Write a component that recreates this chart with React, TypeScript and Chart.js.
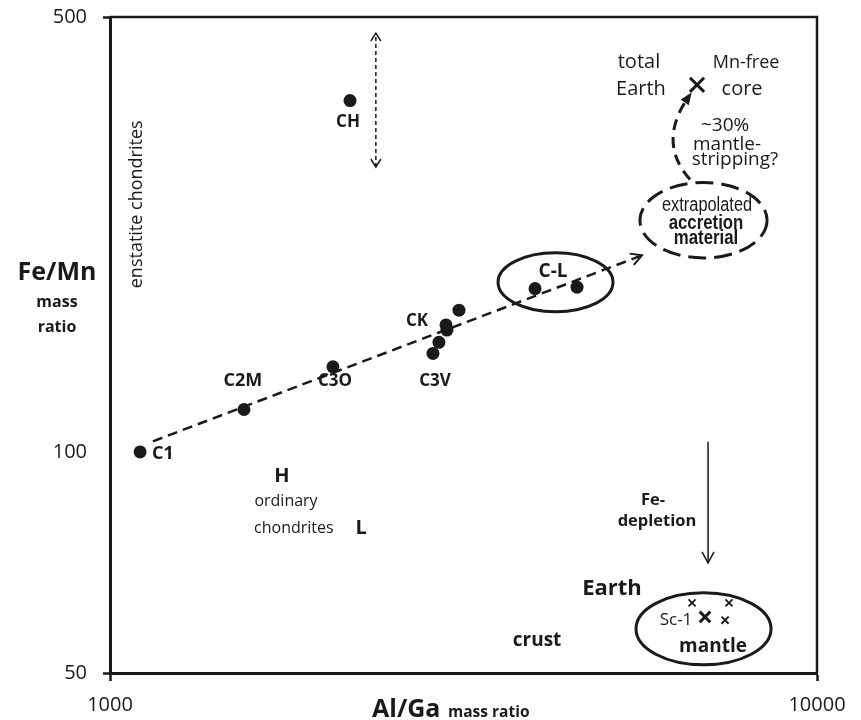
import React, { useEffect, useRef } from 'react';
import { Chart, registerables, LogarithmicScale } from 'chart.js';

Chart.register(...registerables);

// ---------- axes ----------
const xTickValues = [1000, 10000];
const xTickLabels = ['1000', '10000'];
const yTickValues = [50, 100, 500];
const yTickLabels = ['50', '100', '500'];
const Y_MIN = 50;
const Y_MAX = 500;
const Y_BREAK = 100;          // the figure's y axis is drawn with 50-100 stretched
const Y_BREAK_FRACTION = 0.337;

// ---------- chondrite groups (Al/Ga, Fe/Mn mass ratios) ----------
const chondriteNames = ['C1', 'C2M', 'C3O', 'C3V', 'C3V', 'CK', 'CK', 'CK', 'C-L', 'C-L', 'CH'];
const chondriteAlGa = [1103, 1547, 2067, 2863, 2919, 2996, 2987, 3116, 3992, 4577, 2185];
const chondriteFeMn = [100, 117, 137, 144, 150, 157, 160, 169, 183, 184, 367];

// ---------- Earth ----------
const totalEarthAlGa = [6766];
const totalEarthFeMn = [389];
const sc1AlGa = [6944];
const sc1FeMn = [59.6];
const mantleAlGa = [6657, 7508, 7413];
const mantleFeMn = [62.3, 62.3, 59.0];

// ---------- lines / arrows ----------
const trendAlGa = [1150, 5656];
const trendFeMn = [104, 207];
const chRangeAlGa = [2377, 2377];
const chRangeFeMn = [287, 471];
const feDepletionAlGa = [7013, 7013];
const feDepletionFeMn = [103.8, 70.6];
// mantle-stripping curve: start, control, end
const strippingAlGa = [6614, 5929, 6592];
const strippingFeMn = [274, 315, 373];

// ---------- ellipses (bounds) ----------
const ellipseAlGaMin = [3539, 5618, 5546];
const ellipseAlGaMax = [5146, 8499, 8610];
const ellipseFeMnMin = [168, 205, 51.3];
const ellipseFeMnMax = [209, 271, 64.3];
const ellipseDashed = [false, true, false];

// ---------- text annotations ----------
const annotationText = [
  'CH', 'CK', 'C3V', 'C3O', 'C2M', 'C1', 'C-L', 'H', 'ordinary', 'chondrites', 'L',
  'total', 'Earth', 'Mn-free', 'core', '~30%', 'mantle-', 'stripping?',
  'extrapolated', 'accretion', 'material', 'Fe-', 'depletion', 'Earth', 'Sc-1', 'mantle', 'crust',
  'enstatite chondrites',
];
const annotationAlGa = [
  2171, 2718, 2882, 2081, 1542, 1188, 4233, 1751, 1774, 1820, 2265,
  5600, 5636, 7938, 7835, 7413, 7461, 7656,
  6990, 6966, 6966, 5861, 5939, 5129, 6318, 7126, 4018,
  1092,
];
const annotationFeMn = [
  339, 162, 130, 130, 130, 99.4, 195, 92.5, 85.5, 78.6, 78.6,
  423, 383, 422, 383, 335, 312, 295,
  249, 233, 220, 85.8, 80.5, 65.1, 59.0, 54.4, 55.4,
  250,
];
const annotationStyle = [
  'b17', 'b17', 'b17', 'b17', 'b18', 'b18', 'b19', 'b20', 'r16', 'r16', 'b20',
  'r20', 'r20', 'r18', 'r20', 'r19', 'r19', 'r19',
  'n19', 'nb20', 'nb20', 'b16', 'b16', 'b22', 'r17', 'b19', 'b19',
  'r18v',
];

const INK = '#1a1a1a';
const SANS = '"Open Sans", "Noto Sans", sans-serif';
const ARIAL = '"Liberation Sans", Arial, sans-serif';
const NARROW_SCALE = 0.84;
const STYLE_FONTS: Record<string, string> = {
  b16: `bold 16.5px ${SANS}`,
  b17: `bold 17px ${SANS}`,
  b18: `bold 18px ${SANS}`,
  b19: `bold 19px ${SANS}`,
  b20: `bold 20px ${SANS}`,
  b22: `bold 22px ${SANS}`,
  r16: `16px ${SANS}`,
  r17: `17px ${SANS}`,
  r18: `18px ${SANS}`,
  r18v: `18px ${SANS}`,
  r19: `19px ${SANS}`,
  r20: `20px ${SANS}`,
  n19: `19.5px ${ARIAL}`,
  nb20: `bold 20px ${ARIAL}`,
};

class BrokenLogScale extends LogarithmicScale {
  static id = 'brokenLog';
  static defaults = LogarithmicScale.defaults;
  getPixelForValue(value: any) {
    if (value === undefined || value === null || isNaN(value) || value <= 0) return NaN;
    const min = this.min as number;
    const max = this.max as number;
    let d;
    if (value <= Y_BREAK) d = (Y_BREAK_FRACTION * Math.log(value / min)) / Math.log(Y_BREAK / min);
    else d = Y_BREAK_FRACTION + ((1 - Y_BREAK_FRACTION) * Math.log(value / Y_BREAK)) / Math.log(max / Y_BREAK);
    return this.getPixelForDecimal(d);
  }
  getValueForPixel(pixel: number) {
    const d = this.getDecimalForPixel(pixel);
    const min = this.min as number;
    const max = this.max as number;
    if (d <= Y_BREAK_FRACTION) return min * Math.pow(Y_BREAK / min, d / Y_BREAK_FRACTION);
    return Y_BREAK * Math.pow(max / Y_BREAK, (d - Y_BREAK_FRACTION) / (1 - Y_BREAK_FRACTION));
  }
}
Chart.register(BrokenLogScale as any);

function pts(xs: number[], ys: number[]) {
  return xs.map((x, i) => ({ x, y: ys[i] }));
}

function arrowHead(ctx: CanvasRenderingContext2D, tx: number, ty: number, dx: number, dy: number,
  len: number, half: number, filled: boolean) {
  const n = Math.hypot(dx, dy) || 1;
  const ux = dx / n, uy = dy / n;
  const bx = tx - ux * len, by = ty - uy * len;
  const px = -uy * half, py = ux * half;
  ctx.beginPath();
  if (filled) {
    ctx.moveTo(tx, ty);
    ctx.lineTo(bx + px, by + py);
    ctx.lineTo(bx - px, by - py);
    ctx.closePath();
    ctx.fill();
  } else {
    ctx.moveTo(bx + px, by + py);
    ctx.lineTo(tx, ty);
    ctx.lineTo(bx - px, by - py);
    ctx.stroke();
  }
}

const annotationsPlugin = {
  id: 'figureAnnotations',
  afterDatasetsDraw(chart: any) {
    const { ctx } = chart;
    const xs = chart.scales.x, ys = chart.scales.y;
    const X = (v: number) => xs.getPixelForValue(v);
    const Y = (v: number) => ys.getPixelForValue(v);
    ctx.save();
    ctx.strokeStyle = INK;
    ctx.fillStyle = INK;
    ctx.lineCap = 'butt';

    // ellipses
    ellipseAlGaMin.forEach((_, i) => {
      const x1 = X(ellipseAlGaMin[i]), x2 = X(ellipseAlGaMax[i]);
      const y1 = Y(ellipseFeMnMax[i]), y2 = Y(ellipseFeMnMin[i]);
      ctx.beginPath();
      ctx.setLineDash(ellipseDashed[i] ? [18, 8] : []);
      ctx.lineWidth = 3;
      ctx.ellipse((x1 + x2) / 2, (y1 + y2) / 2, (x2 - x1) / 2, (y2 - y1) / 2, 0, 0, Math.PI * 2);
      ctx.stroke();
    });
    ctx.setLineDash([]);

    // trend arrowhead (open)
    {
      const sx = X(trendAlGa[0]), sy = Y(trendFeMn[0]);
      const ex = X(trendAlGa[1]), ey = Y(trendFeMn[1]);
      ctx.lineWidth = 2;
      arrowHead(ctx, ex, ey, ex - sx, ey - sy, 11, 6, false);
    }
    // CH range double arrow
    {
      const x0 = X(chRangeAlGa[0]);
      const yb = Y(chRangeFeMn[0]), yt = Y(chRangeFeMn[1]);
      ctx.lineWidth = 1.5;
      arrowHead(ctx, x0, yt, 0, -1, 8, 5, false);
      arrowHead(ctx, x0, yb, 0, 1, 8, 5, false);
    }
    // Fe-depletion arrowhead
    {
      const x0 = X(feDepletionAlGa[1]), y0 = Y(feDepletionFeMn[1]);
      ctx.lineWidth = 1.5;
      arrowHead(ctx, x0, y0, 0, 1, 11, 6, false);
    }
    // mantle stripping curved arrow
    {
      const sx = X(strippingAlGa[0]), sy = Y(strippingFeMn[0]);
      const cx = X(strippingAlGa[1]), cy = Y(strippingFeMn[1]);
      const ex = X(strippingAlGa[2]), ey = Y(strippingFeMn[2]);
      ctx.lineWidth = 3;
      ctx.setLineDash([11, 7]);
      ctx.beginPath();
      ctx.moveTo(sx, sy);
      ctx.quadraticCurveTo(cx, cy, ex, ey);
      ctx.stroke();
      ctx.setLineDash([]);
      arrowHead(ctx, ex + (ex - cx) * 0.08, ey + (ey - cy) * 0.08, ex - cx, ey - cy, 12, 5, true);
    }

    // texts
    ctx.textAlign = 'center';
    ctx.textBaseline = 'middle';
    annotationText.forEach((t, i) => {
      const st = annotationStyle[i];
      ctx.font = STYLE_FONTS[st];
      const x = X(annotationAlGa[i]), y = Y(annotationFeMn[i]);
      if (st.endsWith('v')) {
        ctx.save();
        ctx.translate(x, y);
        ctx.rotate(-Math.PI / 2);
        ctx.fillText(t, 0, 0);
        ctx.restore();
      } else if (st.startsWith('n')) {
        ctx.save();
        ctx.translate(x, y);
        ctx.scale(NARROW_SCALE, 1);
        ctx.fillText(t, 0, 0);
        ctx.restore();
      } else {
        ctx.fillText(t, x, y);
      }
    });
    ctx.restore();
  },
  afterDraw(chart: any) {
    const { ctx, chartArea: a } = chart;
    ctx.save();
    ctx.strokeStyle = INK;
    ctx.fillStyle = INK;
    // frame: top and right
    ctx.lineWidth = 2.5;
    ctx.beginPath();
    ctx.moveTo(a.left, a.top);
    ctx.lineTo(a.right, a.top);
    ctx.lineTo(a.right, a.bottom);
    ctx.stroke();
    // y title
    ctx.textAlign = 'center';
    ctx.textBaseline = 'alphabetic';
    ctx.font = `bold 25px ${SANS}`;
    ctx.fillText('Fe/Mn', a.left - 53, a.top + 263);
    ctx.font = `bold 16px ${SANS}`;
    ctx.fillText('mass', a.left - 53, a.top + 290);
    ctx.fillText('ratio', a.left - 53, a.top + 315);
    // x title
    ctx.textAlign = 'left';
    ctx.font = `bold 25px ${SANS}`;
    ctx.fillText('Al/Ga', a.left + 262, a.bottom + 43.5);
    ctx.font = `bold 15.5px ${SANS}`;
    ctx.fillText('mass ratio', a.left + 338, a.bottom + 43.5);
    ctx.restore();
  },
};

export default function App() {
  const canvasRef = useRef<HTMLCanvasElement | null>(null);

  useEffect(() => {
    const canvas = canvasRef.current;
    if (!canvas) return;
    const chart = new Chart(canvas, {
      type: 'scatter',
      data: {
        datasets: [
          {
            label: 'trend',
            data: pts(trendAlGa, trendFeMn),
            showLine: true,
            borderColor: INK,
            borderWidth: 2.5,
            borderDash: [10, 6],
            pointRadius: 0,
          },
          {
            label: 'CH range',
            data: pts(chRangeAlGa, chRangeFeMn),
            showLine: true,
            borderColor: INK,
            borderWidth: 1.5,
            borderDash: [4, 3],
            pointRadius: 0,
          },
          {
            label: 'Fe depletion',
            data: pts(feDepletionAlGa, feDepletionFeMn),
            showLine: true,
            borderColor: INK,
            borderWidth: 1.5,
            pointRadius: 0,
          },
          {
            label: 'chondrites',
            data: pts(chondriteAlGa, chondriteFeMn).map((p, i) => ({ ...p, name: chondriteNames[i] })),
            pointRadius: 6.5,
            pointStyle: 'circle',
            backgroundColor: INK,
            borderColor: INK,
            borderWidth: 0,
          },
          {
            label: 'total Earth',
            data: pts(totalEarthAlGa, totalEarthFeMn),
            pointStyle: 'crossRot',
            pointRadius: 10,
            borderColor: INK,
            borderWidth: 3,
          },
          {
            label: 'Sc-1',
            data: pts(sc1AlGa, sc1FeMn),
            pointStyle: 'crossRot',
            pointRadius: 7.5,
            borderColor: INK,
            borderWidth: 3,
          },
          {
            label: 'mantle',
            data: pts(mantleAlGa, mantleFeMn),
            pointStyle: 'crossRot',
            pointRadius: 5,
            borderColor: INK,
            borderWidth: 1.8,
          },
        ],
      },
      options: {
        animation: false,
        responsive: false,
        devicePixelRatio: 1,
        layout: { padding: { top: 17, right: 44, left: 0, bottom: 0 } },
        plugins: { legend: { display: false }, tooltip: { enabled: false } },
        scales: {
          x: {
            type: 'logarithmic',
            min: 1000,
            max: 10000,
            afterBuildTicks: (s: any) => { s.ticks = xTickValues.map((v) => ({ value: v })); },
            afterFit: (s: any) => { s.height = 47; s.paddingLeft = 0; s.paddingRight = 0; },
            ticks: {
              autoSkip: false,
              maxRotation: 0,
              padding: 12,
              color: INK,
              font: { family: SANS, size: 20 },
              callback: (v: any) => xTickLabels[xTickValues.indexOf(Number(v))] ?? '',
            },
            grid: { drawOnChartArea: false, drawTicks: true, tickLength: 8, tickWidth: 2.5, tickColor: INK },
            border: { display: true, color: INK, width: 3 },
          },
          y: {
            type: 'brokenLog' as any,
            min: Y_MIN,
            max: Y_MAX,
            afterBuildTicks: (s: any) => { s.ticks = yTickValues.map((v) => ({ value: v })); },
            afterFit: (s: any) => { s.width = 110; s.paddingTop = 0; s.paddingBottom = 0; },
            ticks: {
              autoSkip: false,
              padding: 16,
              color: INK,
              font: { family: SANS, size: 20 },
              callback: (v: any) => yTickLabels[yTickValues.indexOf(Number(v))] ?? '',
            },
            grid: {
              drawOnChartArea: false,
              drawTicks: true,
              tickLength: 7,
              tickWidth: 2.5,
              tickColor: (c: any) => (c.tick && c.tick.value === Y_BREAK ? 'rgba(0,0,0,0)' : INK),
            },
            border: { display: true, color: INK, width: 3 },
          },
        },
      } as any,
      plugins: [annotationsPlugin],
    });
    return () => chart.destroy();
  }, []);

  return (
    <div style={{ position: 'absolute', left: 0, top: 0, width: 861, height: 720, background: '#fff' }}>
      <canvas ref={canvasRef} width={861} height={720} style={{ width: 861, height: 720, display: 'block' }} />
    </div>
  );
}
